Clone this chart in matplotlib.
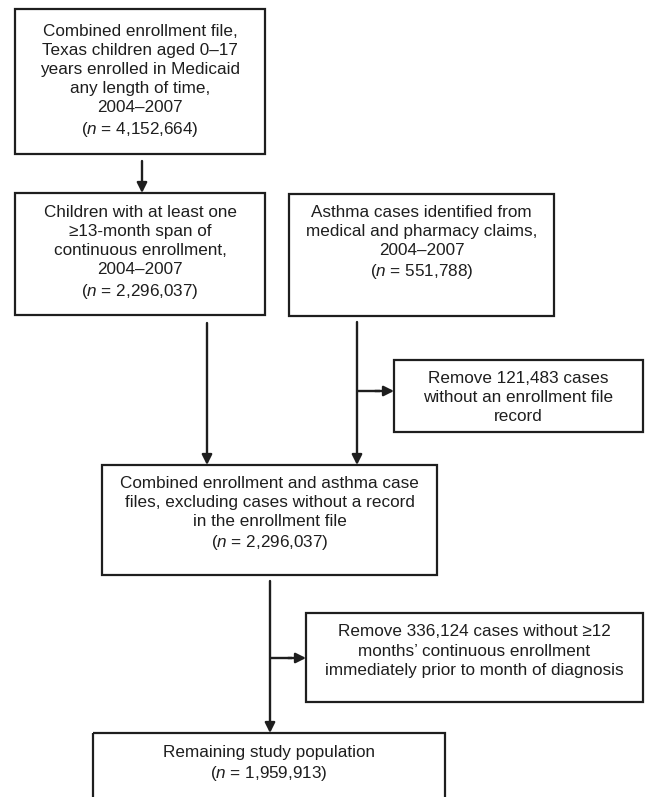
import matplotlib
matplotlib.use('Agg')
import matplotlib.pyplot as plt
from matplotlib.patches import Rectangle

plt.rcParams['font.family'] = ['Liberation Sans', 'DejaVu Sans']
plt.rcParams['mathtext.fontset'] = 'custom'
plt.rcParams['mathtext.rm'] = 'Liberation Sans'
plt.rcParams['mathtext.it'] = 'Liberation Sans:italic'

# box texts
box_lines = [
    ['Combined enrollment file,', 'Texas children aged 0\u201317',
     'years enrolled in Medicaid', 'any length of time,', '2004\u20132007'],
    ['Children with at least one', '\u226513-month span of',
     'continuous enrollment,', '2004\u20132007'],
    ['Asthma cases identified from', 'medical and pharmacy claims,', '2004\u20132007'],
    ['Combined enrollment and asthma case', 'files, excluding cases without a record',
     'in the enrollment file'],
    ['Remove 121,483 cases', 'without an enrollment file', 'record'],
    ['Remove 336,124 cases without \u226512', 'months\u2019 continuous enrollment',
     'immediately prior to month of diagnosis'],
    ['Remaining study population'],
]
box_n = ['4,152,664', '2,296,037', '551,788', '2,296,037', None, None, '1,959,913']

# layout in pixels: x0, y0, x1, y1, first text line y
boxes = [
    (15, 9, 265, 154, 31),
    (15, 193, 265, 315, 212),
    (289, 194, 554, 316, 212),
    (102, 465, 437, 575, 483),
    (394, 360, 643, 432, 378),
    (306, 613, 643, 702, 632),
    (93, 733, 445, 830, 752),
]

fig = plt.figure(figsize=(6.46, 7.97), dpi=100)
ax = fig.add_axes([0, 0, 1, 1])
ax.set_xlim(0, 646)
ax.set_ylim(797, 0)
ax.axis('off')

col = '#1e1e1e'
fs = 12.3
step = 19.2

for (x0, y0, x1, y1, ty), lines, n in zip(boxes, box_lines, box_n):
    ax.add_patch(Rectangle((x0, y0), x1 - x0, y1 - y0, fill=False,
                           ec=col, lw=1.6, clip_on=False))
    xc = (x0 + x1) / 2
    for i, s in enumerate(lines):
        ax.text(xc, ty + i * step, s, ha='center', va='center',
                fontsize=fs, color=col)
    if n is not None:
        ax.text(xc, ty + (len(lines) - 1) * step + 21.5,
                '($\\it{n}$ = ' + n + ')', ha='center', va='center',
                fontsize=fs, color=col)

ap = dict(arrowstyle='-|>', color=col, lw=1.7, mutation_scale=15,
          shrinkA=0, shrinkB=0)

def arrow(x0, y0, x1, y1):
    ax.annotate('', xy=(x1, y1), xytext=(x0, y0), arrowprops=ap)

def line(xs, ys):
    ax.plot(xs, ys, color=col, lw=1.7, solid_capstyle='butt')

arrow(142, 161, 142, 193)
arrow(207, 323, 207, 465)
arrow(357, 322, 357, 465)
line([357, 380], [391, 391])
arrow(375, 391, 394, 391)
arrow(270, 581, 270, 733)
line([270, 292], [658, 658])
arrow(288, 658, 306, 658)

fig.savefig('out.png', dpi=100)
